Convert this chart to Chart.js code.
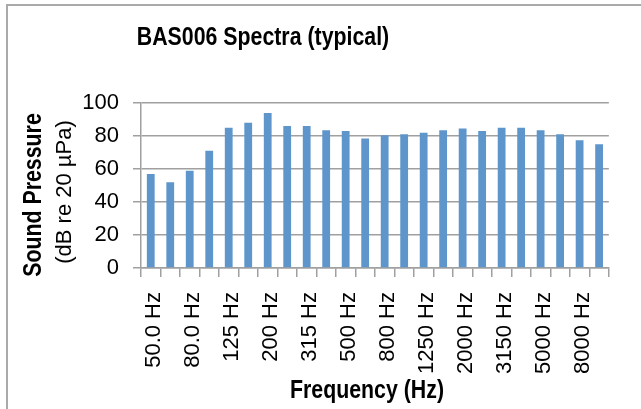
<!DOCTYPE html>
<html>
<head>
<meta charset="utf-8">
<script src="https://cdn.jsdelivr.net/npm/chart.js@4.4.1/dist/chart.umd.min.js"></script>
<style>
  html, body { margin: 0; padding: 0; background: #fff; overflow: hidden; }
  #frame { position: absolute; left: 6px; top: 4px; width: 700px; height: 500px;
           border-left: 2px solid #aaaaaa; border-top: 2px solid #aaaaaa; }
  #chartCanvas { position: absolute; left: 0; top: 0; }
</style>
</head>
<body>
<div id="frame"></div>
<canvas id="chartCanvas" width="641" height="409"></canvas>
<script>
// ---------------- 資料 ----------------
const bands = ['50.0 Hz','63.0 Hz','80.0 Hz','100 Hz','125 Hz','160 Hz','200 Hz','250 Hz',
  '315 Hz','400 Hz','500 Hz','630 Hz','800 Hz','1000 Hz','1250 Hz','1600 Hz',
  '2000 Hz','2500 Hz','3150 Hz','4000 Hz','5000 Hz','6300 Hz','8000 Hz','10000 Hz'];
const soundPressure = [57, 52, 59, 71, 85, 88, 94, 86, 86, 83.5, 83, 78.5,
  80.5, 81, 82, 83.5, 84.5, 83, 85, 85, 83.5, 81, 77.5, 75];
const yTicks = [0, 20, 40, 60, 80, 100];

const chartTitle = 'BAS006 Spectra (typical)';
const yTitle = 'Sound Pressure';
const yUnit = '(dB re 20 µPa)';
const xTitle = 'Frequency (Hz)';

const gridColor = '#a0a0a0';
const boldFont = 'bold 26px "Liberation Sans", Arial, sans-serif';
const narrowScale = 0.82;   // 模擬 Arial Narrow

// ---------------- 標題繪製 ----------------
function narrowText(c, text, x, y, angle) {
  c.save();
  c.fillStyle = '#000';
  c.textAlign = 'center';
  c.textBaseline = 'alphabetic';
  c.font = boldFont;
  c.translate(x, y);
  if (angle) c.rotate(angle);
  c.scale(narrowScale, 1);
  c.fillText(text, 0, 0);
  c.restore();
}

const titlesPlugin = {
  id: 'titles',
  afterDraw(chart) {
    const c = chart.ctx;
    narrowText(c, chartTitle, 263, 45);
    narrowText(c, xTitle, 367, 398);
    narrowText(c, yTitle, 41, 195, -Math.PI / 2);

    c.save();
    c.fillStyle = '#000';
    c.textAlign = 'center';
    c.textBaseline = 'alphabetic';
    c.font = '22px "Liberation Sans", Arial, sans-serif';
    c.translate(71, 192);
    c.rotate(-Math.PI / 2);
    c.fillText(yUnit, 0, 0);
    c.restore();
  }
};

// ---------------- Chart.js ----------------
const ctx = document.getElementById('chartCanvas').getContext('2d');
const chart = new Chart(ctx, {
  type: 'bar',
  data: {
    labels: bands,
    datasets: [{
      data: soundPressure,
      backgroundColor: '#5e96cc',
      barPercentage: 0.4,
      categoryPercentage: 1
    }]
  },
  options: {
    responsive: false,
    animation: false,
    devicePixelRatio: 1,
    layout: { padding: { left: 70, right: 24, top: 103, bottom: 0 } },
    plugins: { legend: { display: false }, title: { display: false }, tooltip: { enabled: false } },
    scales: {
      x: {
        grid: { offset: true, drawOnChartArea: false, drawTicks: true, tickLength: 9, color: gridColor, lineWidth: 1.5 },
        border: { display: true, color: gridColor, width: 1.5 },
        ticks: {
          autoSkip: false, maxRotation: 90, minRotation: 90, padding: 15, labelOffset: 3,
          color: '#000', font: { family: '"Liberation Sans", Arial, sans-serif', size: 22 },
          callback: (v, i) => i % 2 === 0 ? bands[i] : ''
        },
        afterFit: s => { s.height = 141; }
      },
      y: {
        min: 0, max: 100,
        afterBuildTicks: s => { s.ticks = yTicks.map(v => ({ value: v })); },
        grid: { color: gridColor, lineWidth: 1.5, tickLength: 8 },
        border: { display: true, color: gridColor, width: 1.5 },
        ticks: { padding: 14, color: '#000', font: { family: '"Liberation Sans", Arial, sans-serif', size: 22 } },
        afterFit: s => { s.width = 71; }
      }
    }
  },
  plugins: [titlesPlugin]
});
</script>
</body>
</html>
